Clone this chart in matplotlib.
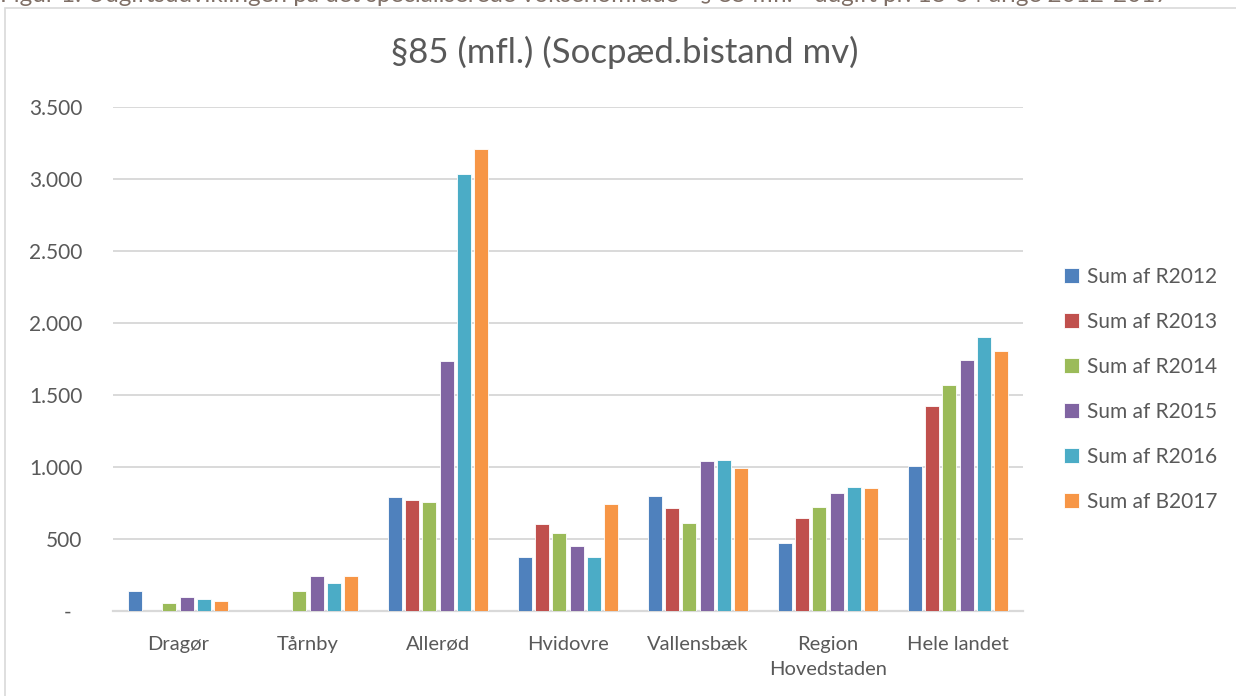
import numpy as np
import matplotlib.pyplot as plt
from matplotlib.patches import Rectangle
from matplotlib.ticker import FuncFormatter

plt.rcParams['font.family'] = ['Lato', 'DejaVu Sans']

categories = ['Dragør', 'Tårnby', 'Allerød', 'Hvidovre', 'Vallensbæk',
              'Region\nHovedstaden', 'Hele landet']
series = ['Sum af R2012', 'Sum af R2013', 'Sum af R2014',
          'Sum af R2015', 'Sum af R2016', 'Sum af B2017']
r2012 = [141, 0, 794, 374, 802, 474, 1007]
r2013 = [0, 0, 769, 605, 712, 647, 1426]
r2014 = [53, 141, 760, 541, 610, 719, 1567]
r2015 = [95, 240, 1736, 448, 1040, 820, 1740]
r2016 = [81, 194, 3033, 372, 1049, 859, 1901]
b2017 = [67, 240, 3211, 744, 991, 857, 1806]
yticks = [0, 500, 1000, 1500, 2000, 2500, 3000, 3500]

colors = ['#4F81BD', '#C0504D', '#9BBB59', '#8064A2', '#4BACC6', '#F79646']
text_col = '#595959'
grid_col = '#D9D9D9'

fig = plt.figure(figsize=(12.36, 6.96), dpi=100)

# caption above the chart, cut off at the top edge
fig.text(0.0, 1 - 2 / 696, 'Figur 1: Udgiftsudviklingen på det specialiserede voksenområde - '
         '§ 85 mfl. - udgift pr. 18-64 årige 2012-2017',
         ha='left', va='baseline', fontsize=17.5, color='#7F6F66')

# chart border
fig.patches.append(Rectangle((5 / 1236, -0.05), 1.1, 1 - 8 / 696 + 0.05,
                             transform=fig.transFigure, fill=False,
                             edgecolor='#D9D9D9', linewidth=1.2))

ax = fig.add_axes([113 / 1236, 85 / 696, 910 / 1236, 504 / 696])

data = [r2012, r2013, r2014, r2015, r2016, b2017]
x = np.arange(len(categories))
slot = 0.133
width = 0.108
for i, (vals, name) in enumerate(zip(data, series)):
    ax.bar(x + (i - 2.5) * slot, vals, width, color=colors[i], label=name,
           edgecolor='white', linewidth=0.6, zorder=3)

ax.set_xlim(-0.5, len(categories) - 0.5)
ax.set_ylim(0, 3500)
ax.set_yticks(yticks)
ax.yaxis.set_major_formatter(FuncFormatter(
    lambda v, p: '-  ' if v == 0 else f'{int(v):,}'.replace(',', '.')))
ax.set_xticks(x)
ax.set_xticklabels(categories, linespacing=1.6)
ax.tick_params(axis='both', length=0, colors=text_col)
ax.tick_params(axis='x', pad=18, labelsize=14.5)
ax.tick_params(axis='y', pad=22, labelsize=15)

ax.grid(axis='y', color=grid_col, linewidth=1.4, zorder=0)
for s in ['top', 'right', 'left']:
    ax.spines[s].set_visible(False)
ax.spines['bottom'].set_color(grid_col)
ax.spines['bottom'].set_linewidth(1.6)

fig.text(625 / 1236, 1 - 52 / 696, '§85 (mfl.) (Socpæd.bistand mv)',
         ha='center', va='center', fontsize=25, color=text_col)

leg = ax.legend(loc='center left', bbox_to_anchor=(1.024, 0.44), frameon=False,
                fontsize=15, handlelength=0.75, handleheight=0.75,
                handletextpad=0.35, labelspacing=1.2, labelcolor=text_col)

fig.savefig('out.png', dpi=100)
